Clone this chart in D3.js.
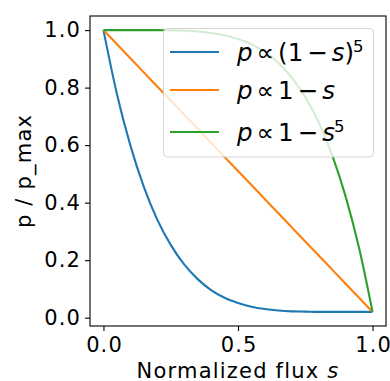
<!DOCTYPE html>
<html>
<head>
<meta charset="utf-8">
<script src="https://cdn.jsdelivr.net/npm/d3@7"></script>
<style>
  body { margin: 0; background: #fff; }
  svg { display: block; }
  text { font-family: "DejaVu Sans", sans-serif; fill: #000; }
</style>
</head>
<body>
<svg id="chart" width="390" height="381"></svg>
<script>
// normalized flux samples
const sVals = [0, 0.05, 0.1, 0.15, 0.2, 0.25, 0.3, 0.35, 0.4, 0.45, 0.5,
  0.55, 0.6, 0.65, 0.7, 0.75, 0.8, 0.85, 0.9, 0.95, 1];

// p / p_max
const blueVals = [1.0, 0.778, 0.599, 0.455, 0.341, 0.253, 0.185, 0.134, 0.096, 0.069, 0.051,
  0.038, 0.030, 0.025, 0.022, 0.021, 0.020, 0.020, 0.020, 0.020, 0.020];
const orangeVals = [1.0, 0.951, 0.902, 0.853, 0.804, 0.755, 0.706, 0.657, 0.608, 0.559, 0.51,
  0.461, 0.412, 0.363, 0.314, 0.265, 0.216, 0.167, 0.118, 0.069, 0.02];
const greenVals = [1.0, 1.0, 1.0, 1.0, 1.0, 0.999, 0.998, 0.995, 0.990, 0.982, 0.969,
  0.951, 0.924, 0.886, 0.835, 0.767, 0.679, 0.565, 0.421, 0.242, 0.02];

const labels = ["p ∝ (1 − s)^5", "p ∝ 1 − s", "p ∝ 1 − s^5"];
const colors = ["#1f77b4", "#ff7f0e", "#2ca02c"];

const xTicks = [0, 0.5, 1.0];
const yTicks = [0, 0.2, 0.4, 0.6, 0.8, 1.0];

const series = [blueVals, orangeVals, greenVals];

const svg = d3.select("#chart");
const m = { left: 90, right: 386, top: 16, bottom: 326 };
const fs = 21, ls = 1.1;

const x = d3.scaleLinear().domain([-0.05, 1.05]).range([m.left, m.right]);
const y = d3.scaleLinear().domain([-0.029, 1.049]).range([m.bottom, m.top]);

// axes
const xAxis = svg.append("g")
  .attr("transform", `translate(0,${m.bottom})`)
  .call(d3.axisBottom(x).tickValues(xTicks).tickFormat(d3.format(".1f"))
    .tickSize(5).tickPadding(6).tickSizeOuter(0));
const yAxis = svg.append("g")
  .attr("transform", `translate(${m.left},0)`)
  .call(d3.axisLeft(y).tickValues(yTicks).tickFormat(d3.format(".1f"))
    .tickSize(5).tickPadding(4).tickSizeOuter(0));

[xAxis, yAxis].forEach(g => {
  g.select(".domain").remove();
  g.selectAll(".tick line").attr("stroke", "#000").attr("stroke-width", 1.1);
  g.selectAll(".tick text")
    .attr("font-size", fs).attr("letter-spacing", ls)
    .attr("font-family", "DejaVu Sans").attr("fill", "#000");
});
xAxis.selectAll(".tick text").attr("dx", ls / 2);

// lines
const line = d3.line()
  .x((d, i) => x(sVals[i]))
  .y(d => y(d))
  .curve(d3.curveMonotoneX);

svg.append("g")
  .selectAll("path")
  .data(series)
  .join("path")
  .attr("d", d => line(d))
  .attr("fill", "none")
  .attr("stroke", (d, i) => colors[i])
  .attr("stroke-width", 2.1);

// frame
svg.append("rect")
  .attr("x", m.left).attr("y", m.top)
  .attr("width", m.right - m.left).attr("height", m.bottom - m.top)
  .attr("fill", "none").attr("stroke", "#000").attr("stroke-width", 1.1);

// axis labels
const xl = svg.append("text")
  .attr("x", (m.left + m.right) / 2).attr("y", 377.5)
  .attr("text-anchor", "middle").attr("font-size", fs).attr("letter-spacing", 1.2);
xl.append("tspan").text("Normalized flux ");
xl.append("tspan").attr("font-style", "italic").text("s");

svg.append("text")
  .attr("transform", `translate(31,${(m.top + m.bottom) / 2}) rotate(-90)`)
  .attr("text-anchor", "middle").attr("font-size", fs).attr("letter-spacing", 1.2)
  .text("p / p_max");

// legend
const legend = svg.append("g");
legend.append("rect")
  .attr("x", 163.5).attr("y", 28.5).attr("width", 210).attr("height", 128.5)
  .attr("rx", 4)
  .attr("fill", "#fff").attr("fill-opacity", 0.8)
  .attr("stroke", "#ccc").attr("stroke-opacity", 0.8).attr("stroke-width", 1);

const rowY = [52, 90, 132];
labels.forEach((lab, i) => {
  legend.append("line")
    .attr("x1", 170).attr("x2", 219)
    .attr("y1", rowY[i]).attr("y2", rowY[i])
    .attr("stroke", colors[i]).attr("stroke-width", 2.1);
  const t = legend.append("text")
    .attr("x", 237).attr("y", rowY[i] + 8.5)
    .attr("font-size", 24.5);
  // simple mathtext: p, s italic; ^5 superscript; spaces become small gaps
  const parts = lab.split("^");
  let gap = 0;
  for (const ch of parts[0]) {
    if (ch === " ") { gap += 4; continue; }
    const sp = t.append("tspan").attr("dx", gap).text(ch);
    if (ch === "p" || ch === "s") sp.attr("font-style", "italic");
    gap = 0;
  }
  if (parts[1]) {
    t.append("tspan").attr("font-size", 16.5).attr("dy", -9).attr("dx", -1).text(parts[1]);
  }
});
</script>
</body>
</html>
